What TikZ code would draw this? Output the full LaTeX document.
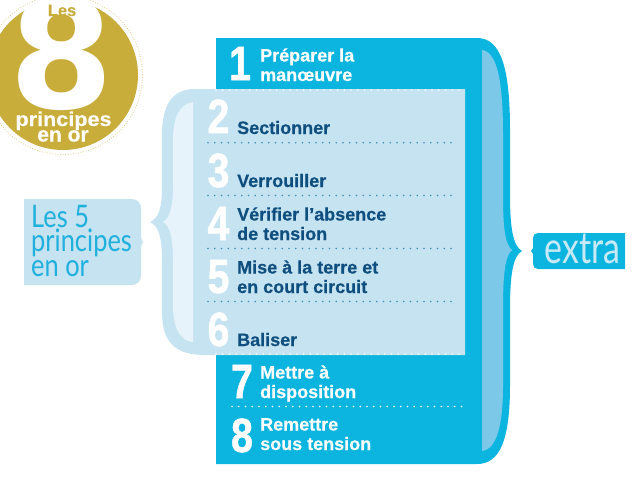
\documentclass[tikz,border=0pt]{standalone}
\usepackage{fontspec}
\usepackage{graphicx}
\setmainfont{Liberation Sans}[BoldFeatures={FakeBold=0.35}]
\newfontfamily\numface{Liberation Sans Bold}[FakeBold=1.2]
\newfontfamily\lightface{Lato}
\definecolor{mainblue}{HTML}{0CB5E0}
\definecolor{midblue}{HTML}{7CC8E8}
\definecolor{paleblue}{HTML}{C5E3F1}
\definecolor{palest}{HTML}{E6F3FA}
\definecolor{navy}{HTML}{0F4F7F}
\definecolor{dotteal}{HTML}{3F8FB5}
\definecolor{gold}{HTML}{C9AD3B}
\definecolor{tagtext}{HTML}{1FB0DE}
\definecolor{extratext}{HTML}{C8EAF7}
\newcommand{\bignum}[1]{\scalebox{0.82}[1]{\fontsize{48}{48}\numface\selectfont #1}}
\tikzset{
  numlabel/.style={anchor=base,inner sep=0pt,text=white},
  steptext/.style={anchor=base west,inner sep=0pt,align=left,font=\fontsize{18}{19.5}\bfseries\selectfont},
  inwhite/.style={steptext,text=white},
  innavy/.style={steptext,text=navy},
  dotrow/.style={line width=1.7pt,line cap=round,dash pattern=on 0pt off 6.75pt},
  taglabel/.style={anchor=base west,inner sep=0pt,text=tagtext},
}
\begin{document}
\begin{tikzpicture}[x=1pt,y=-1pt]
\useasboundingbox (0,0) rectangle (640,480);
\clip (0,0) rectangle (640,480);
% gold badge
\fill[gold] (63,75) circle[radius=75];
\draw[gold!70,line width=1pt,line cap=round,dash pattern=on 0pt off 2.6pt] (63,75) circle[radius=79.5];
\node[inner sep=0pt,anchor=base,text=white] (eight) at (62,108) {\fontspec{DejaVu Sans Bold}\fontsize{150}{150}\selectfont 8};
\node[inner sep=0pt,anchor=base,text=gold] (les) at (62,16) {\fontsize{16.5}{17}\bfseries\selectfont Les};
\node[inner sep=0pt,anchor=base,text=white] (princ) at (63.5,126) {\scalebox{1.08}[1]{\fontsize{20}{20}\bfseries\selectfont principes}};
\node[inner sep=0pt,anchor=base,text=white] (enor) at (63,141.5) {\fontsize{21}{21}\bfseries\selectfont en or};
% main blue brace box
\fill[mainblue] (216,38) -- (477,38) .. controls (500,38) and (510,65) .. (510,130)
  -- (510,195) .. controls (510,228) and (513,246) .. (522,251)
  .. controls (513,256) and (510,274) .. (510,310)
  -- (510,385) .. controls (510,440) and (500,464) .. (477,464) -- (216,464) -- cycle;
\fill[midblue] (482,50) .. controls (497,52) and (503,80) .. (503,135)
  -- (503,195) .. controls (503,228) and (505,244) .. (512,250)
  .. controls (505,256) and (503,274) .. (503,310)
  -- (503,385) .. controls (503,425) and (497,449) .. (482,451) -- cycle;
% pale brace box
\fill[paleblue] (465,89) -- (195,89) .. controls (172,89) and (162,105) .. (162,135)
  -- (162,185) .. controls (162,208) and (159,218) .. (150,222)
  .. controls (159,226) and (162,238) .. (162,262)
  -- (162,312) .. controls (162,342) and (175,355) .. (205,355) -- (465,355) -- cycle;
\fill[palest] (193,102) .. controls (179,104) and (173,118) .. (173,140)
  -- (173,185) .. controls (173,206) and (170,218) .. (163,222)
  .. controls (170,226) and (173,238) .. (173,262)
  -- (173,305) .. controls (173,328) and (180,341) .. (193,342) -- cycle;
% dotted rules
\draw[white,dotrow] (216,90) -- (465,90);
\draw[white,dotrow] (216,354) -- (465,354);
\draw[dotteal,dotrow] (208,142.7) -- (453,142.7);
\draw[dotteal,dotrow] (208,195.5) -- (453,195.5);
\draw[dotteal,dotrow] (208,248.5) -- (453,248.5);
\draw[dotteal,dotrow] (208,301.5) -- (453,301.5);
\draw[white,dotrow] (232,406.5) -- (465,406.5);
% numbers
\node[numlabel] (n1) at (240,80) {\bignum{1}};
\node[numlabel] (n2) at (218.5,133) {\bignum{2}};
\node[numlabel] (n3) at (218.5,187) {\bignum{3}};
\node[numlabel] (n4) at (218.5,240) {\bignum{4}};
\node[numlabel] (n5) at (218.5,293) {\bignum{5}};
\node[numlabel] (n6) at (218.5,346) {\bignum{6}};
\node[numlabel] (n7) at (242,398) {\bignum{7}};
\node[numlabel] (n8) at (242,452) {\bignum{8}};
% step labels
\node[inwhite] (t1) at (260,81) {Préparer la\\manœuvre};
\node[innavy] (t2) at (237,134) {Sectionner};
\node[innavy] (t3) at (237,187) {Verrouiller};
\node[innavy] (t4) at (237,240) {Vérifier l’absence\\de tension};
\node[innavy] (t5) at (237,293) {Mise à la terre et\\en court circuit};
\node[innavy] (t6) at (237,346) {Baliser};
\node[inwhite] (t7) at (260,398) {Mettre à\\disposition};
\node[inwhite] (t8) at (260,450) {Remettre\\sous tension};
% left tag
\fill[paleblue] (24,199) -- (132,199) .. controls (137,199) and (141,203) .. (141,208) -- (141,238) -- (143,242) -- (141,246) -- (141,276) .. controls (141,281) and (137,285) .. (132,285) -- (24,285) -- cycle;
\node[taglabel] (l1) at (31,227) {\scalebox{0.82}[1]{\fontsize{31}{31}\lightface\selectfont Les 5}};
\node[taglabel] (l2) at (31,251) {\scalebox{0.82}[1]{\fontsize{31}{31}\lightface\selectfont principes}};
\node[taglabel] (l3) at (31,276) {\scalebox{0.82}[1]{\fontsize{31}{31}\lightface\selectfont en or}};
% extra tag
\fill[mainblue] (625,233) -- (538,233) .. controls (535,233) and (533,235) .. (533,238)
  -- (533,248) -- (531,251) -- (533,254) -- (533,264) .. controls (533,267) and (535,269) .. (538,269) -- (625,269) -- cycle;
\node[inner sep=0pt,anchor=base west,text=extratext] (extra) at (544.5,263) {\scalebox{0.77}[1]{\fontsize{44}{44}\lightface\selectfont extra}};
\end{tikzpicture}
\end{document}
